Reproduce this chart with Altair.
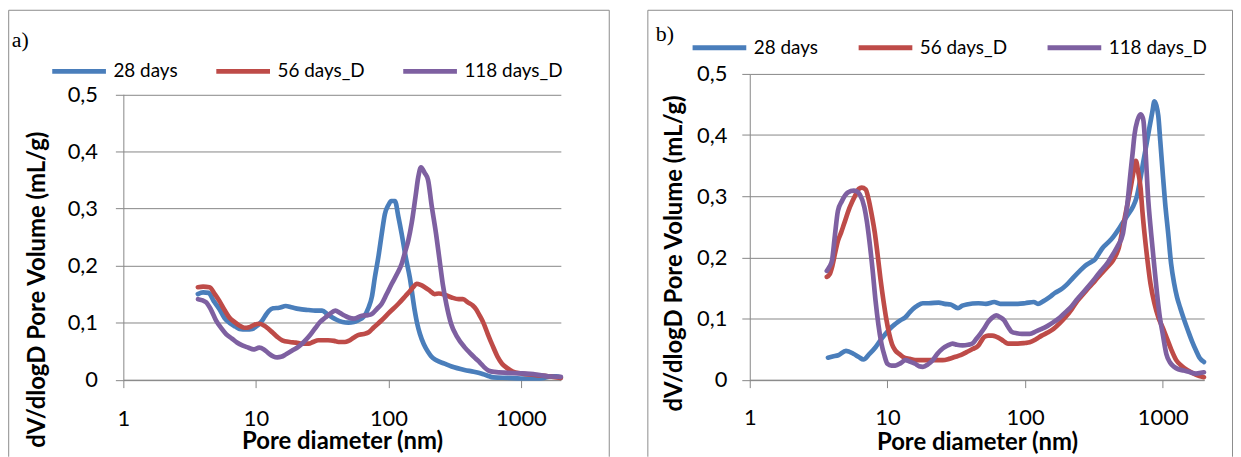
import altair as alt
import pandas as pd

SERIES = ["28 days", "56 days_D", "118 days_D"]
COLORS = ["#4A7EBB", "#BE4B48", "#7E60A1"]
X_TICKS = [1, 10, 100, 1000]
Y_TICKS = [0, 0.1, 0.2, 0.3, 0.4, 0.5]
PANEL_LABELS = ["a)", "b)"]
X_TITLE = "Pore diameter (nm)"
Y_TITLE = "dV/dlogD Pore Volume (mL/g)"

# ---------------- panel a ----------------
a28_d = [3.65, 4.0, 4.4, 4.8, 5.3, 5.8, 6.3, 7.0, 7.5, 8.5, 9.4, 10.3, 11.2, 12.0, 12.6, 13.5, 15, 16.8,
         18.5, 21, 25, 28, 31.6, 35, 39.8, 45, 50, 55, 59, 65, 71, 75, 79, 84, 89, 94, 100, 105, 112, 119,
         126, 135, 145, 158, 165, 173, 185, 200, 210, 230, 265, 300, 375, 440, 500, 560, 620, 800, 1000,
         1300, 1500, 1700, 1850, 2000]
a28_v = [.150, .153, .152, .138, .124, .108, .100, .093, .089, .088, .089, .095, .104, .115, .121, .125, .126,
         .129, .127, .124, .122, .121, .121, .114, .106, .101, .100, .101, .104, .110, .127, .145, .179, .215,
         .255, .290, .306, .313, .313, .285, .255, .215, .179, .121, .098, .080, .062, .048, .041, .034, .028,
         .023, .017, .014, .011, .007, .004, .003, .002, .002, .003, .006, .006, .004]

a56_d = [3.65, 4.0, 4.47, 4.9, 5.3, 5.8, 6.3, 7.0, 7.5, 8.2, 8.9, 9.7, 10.6, 11.5, 12.3, 13.3, 14.5, 15.8, 18,
         20, 22.3, 25, 27, 29.6, 35, 39, 42, 47, 50, 55, 59, 65, 71, 77, 89, 100, 119, 135, 145, 155, 163,
         175, 188, 205, 223, 240, 265, 300, 340, 365, 400, 433, 460, 486, 520, 562, 610, 667, 720, 790, 870,
         1000, 1300, 1600, 2000]
a56_v = [.162, .163, .162, .150, .138, .122, .109, .100, .095, .091, .092, .096, .098, .095, .090, .083, .075,
         .069, .066, .065, .063, .063, .066, .069, .069, .068, .066, .066, .068, .074, .078, .080, .083, .091,
         .104, .116, .133, .147, .155, .163, .168, .166, .162, .156, .150, .151, .149, .144, .141, .141, .135,
         .130, .123, .113, .100, .080, .060, .040, .028, .020, .014, .011, .008, .006, .003]

a118_d = [3.66, 4.2, 4.6, 5.0, 5.5, 5.96, 6.6, 7.2, 7.9, 8.8, 9.6, 10.6, 11.5, 12.5, 13.5, 14.5, 15.5, 17,
          18.8, 21, 23, 25, 28, 30.5, 33.5, 36, 39.8, 43, 47, 50, 55, 63, 70, 75, 82, 89, 97, 106, 116, 126,
          133, 141, 150, 160, 168, 176, 188, 199, 212, 229, 243, 257, 275, 297, 330, 375, 415, 455, 490, 527,
          570, 630, 800, 1000, 1300, 1600, 2000]
a118_v = [.141, .136, .122, .104, .090, .080, .072, .065, .060, .056, .053, .056, .053, .046, .041, .039, .040,
          .045, .051, .058, .066, .075, .090, .101, .109, .115, .121, .117, .112, .109, .107, .112, .113, .115,
          .124, .133, .150, .168, .185, .203, .222, .243, .275, .320, .355, .372, .362, .350, .305, .255, .210,
          .168, .130, .098, .075, .057, .046, .037, .030, .022, .016, .0136, .012, .011, .009, .006, .005]

# ---------------- panel b ----------------
b28_d = [3.7, 4.0, 4.4, 5.0, 5.7, 6.2, 6.7, 7.4, 8.2, 9.0, 9.7, 10.5, 11.4, 12.4, 13.5, 14.5, 15.4, 16.5, 18.1,
         20, 23.6, 26, 28.8, 32.5, 35, 37.6, 45.8, 52, 59.7, 66, 72.8, 88.8, 100, 115.6, 124, 135, 150.7, 165,
         183.7, 200, 224, 250, 273, 300, 323, 345, 368, 400, 435, 475, 513, 560, 605, 646, 690, 725, 762, 800,
         842, 870, 900, 929, 960, 993, 1040, 1097, 1150, 1211, 1270, 1337, 1430, 1527, 1630, 1742, 1850, 1993]
b28_v = [.036, .038, .040, .047, .042, .037, .033, .042, .053, .066, .075, .084, .091, .097, .102, .110, .116,
         .121, .125, .125, .126, .124, .123, .117, .121, .123, .125, .124, .127, .124, .124, .124, .125, .127,
         .124, .128, .135, .142, .148, .155, .167, .178, .186, .192, .197, .207, .216, .224, .233, .245, .257,
         .270, .282, .298, .330, .358, .385, .412, .439, .455, .448, .431, .390, .347, .290, .238, .190, .157,
         .135, .118, .098, .080, .063, .048, .036, .029]

b56_d = [3.63, 3.8, 3.96, 4.15, 4.37, 4.6, 4.83, 5.33, 5.89, 6.2, 6.5, 6.95, 7.3, 7.67, 8.1, 8.48, 8.9, 9.36,
         9.8, 10.3, 10.8, 11.4, 12.2, 13.0, 14.5, 15.9, 20.7, 25.2, 28, 30.8, 34, 37.6, 41.5, 45.8, 48, 50.6,
         54, 57.7, 62, 65.9, 70, 75.2, 88.8, 100, 108, 120, 132, 146, 161, 178, 196, 218, 240, 265, 292, 323,
         356, 395, 435, 460, 480, 505, 530, 558, 585, 610, 638, 663, 690, 712, 738, 775, 815, 870, 929, 1000,
         1062, 1150, 1253, 1380, 1527, 1750, 1993]
b56_v = [.168, .172, .184, .205, .227, .240, .254, .282, .303, .312, .314, .311, .295, .271, .240, .205, .165,
         .129, .100, .075, .058, .048, .042, .037, .034, .032, .032, .032, .034, .037, .040, .045, .050, .056,
         .063, .070, .072, .072, .070, .067, .063, .059, .059, .060, .061, .066, .072, .077, .083, .092, .102,
         .115, .129, .140, .151, .162, .173, .184, .195, .205, .216, .240, .265, .290, .314, .337, .358, .340,
         .314, .275, .238, .195, .157, .125, .102, .085, .070, .050, .032, .022, .015, .008, .004]

b118_d = [3.63, 3.8, 3.96, 4.15, 4.37, 4.67, 5.16, 5.7, 6.0, 6.3, 6.8, 7.1, 7.4, 7.8, 8.2, 8.6, 9.05, 9.5, 10.0,
          10.7, 11.4, 12.5, 13.5, 14.7, 15.9, 17, 18.1, 19.7, 21.4, 23, 25.2, 27.5, 29.7, 32, 35.2, 38.5, 41.4,
          44, 47.3, 50.5, 53.8, 57.5, 61.7, 66, 70.4, 75, 80.3, 87, 94.8, 108, 120, 132, 146, 161, 178, 196,
          218, 240, 265, 292, 323, 356, 395, 435, 475, 513, 530, 550, 567, 585, 604, 624, 655, 690, 712, 725,
          750, 780, 823, 870, 910, 953, 1000, 1062, 1130, 1211, 1300, 1418, 1580, 1742, 1993]
b118_v = [.178, .185, .195, .235, .276, .292, .306, .309, .308, .303, .282, .258, .227, .180, .129, .090, .059,
          .040, .026, .023, .023, .027, .032, .029, .026, .022, .021, .025, .032, .042, .051, .056, .059, .057,
          .056, .057, .059, .066, .075, .084, .094, .101, .105, .102, .097, .087, .078, .076, .075, .075, .079,
          .083, .088, .094, .101, .110, .120, .132, .143, .154, .166, .178, .190, .205, .220, .238, .258, .282,
          .310, .341, .370, .401, .424, .434, .430, .423, .375, .303, .240, .184, .140, .102, .075, .042, .028,
          .021, .017, .015, .012, .010, .012]

GRID = "#868686"
FRAME = "#8c8c8c"
FONT = "Lato"


def panel(curves, label, g):
    rows = []
    for name, (d, v) in zip(SERIES, curves):
        for i, (xx, yy) in enumerate(zip(d, v)):
            rows.append({"series": name, "d": xx, "v": yy, "i": i})
    df = pd.DataFrame(rows)

    lines = alt.Chart(df).mark_line(
        strokeWidth=4.7, strokeCap="round", strokeJoin="round", interpolate="monotone"
    ).encode(
        x=alt.X("d:Q", scale=alt.Scale(type="log", domain=[1, 2000], nice=False),
                axis=alt.Axis(values=X_TICKS, format="d", grid=False, domainColor=GRID, tickColor=GRID,
                              tickSize=8, labelFontSize=22, labelFont=FONT, labelColor="black",
                              labelPadding=g["xlp"], labelFlush=False, labelOverlap=False,
                              title=X_TITLE, titleFont=FONT, titleFontSize=24, titleFontWeight="bold",
                              titleColor="black", titleBaseline="alphabetic", titleY=g["xty"])),
        y=alt.Y("v:Q", scale=alt.Scale(domain=[0, 0.5], nice=False, range=g["yr"]),
                axis=alt.Axis(values=Y_TICKS, grid=True, gridColor=GRID, domainColor=GRID, tickColor=GRID,
                              tickSize=8, labelFontSize=22, labelFont=FONT, labelColor="black",
                              labelPadding=g["ylp"],
                              labelExpr="datum.value == 0 ? '0' : replace(format(datum.value, '.1f'), '.', ',')",
                              title=Y_TITLE, titleFont=FONT, titleFontSize=24, titleFontWeight="bold",
                              titleColor="black", titleAngle=270, titleAlign="center",
                              titleBaseline="middle", titleX=g["ytx"], titleY=g["yty"])),
        color=alt.Color("series:N", scale=alt.Scale(domain=SERIES, range=COLORS),
                        legend=alt.Legend(orient="none", legendX=g["lx"], legendY=g["ly"],
                                          direction="horizontal", columns=3, title=None,
                                          symbolType="stroke", symbolSize=2916, symbolStrokeWidth=5,
                                          labelFontSize=19, labelFont=FONT, labelColor="black",
                                          labelOffset=5, columnPadding=g["cp"], padding=0,
                                          labelLimit=300)),
        order="i:Q",
    ).properties(width=g["w"], height=307.5)

    one = pd.DataFrame({"k": [0]})
    base = alt.Chart(one).mark_rule(color=FRAME, strokeWidth=1)
    left = base.encode(x=alt.value(g["bl"]), y=alt.value(-64), y2=alt.value(385))
    right = base.encode(x=alt.value(g["br"]), y=alt.value(-64), y2=alt.value(385))
    top = base.encode(x=alt.value(g["bl"]), x2=alt.value(g["br"]), y=alt.value(-64))
    tag = alt.Chart(pd.DataFrame({"t": [label]})).mark_text(
        font="Liberation Serif", fontSize=22, align="left", baseline="middle", color="black"
    ).encode(text="t:N", x=alt.value(g["tx"]), y=alt.value(g["ty"]))

    return alt.layer(left, right, top, tag, lines)


# both plot groups share a top edge at y=72; panel a's value range is set inside it
ga = dict(w=440, yr=[307.5, 20.5], xlp=21, ylp=18, xty=69, ytx=-86.3, yty=216.5,
          lx=-74, ly=-32.3, cp=28, bl=-115.3, br=488.7, tx=-112.3, ty=-34)
gb = dict(w=457, yr=[307.5, 0], xlp=20, ylp=15, xty=70, ytx=-75.5, yty=180,
          lx=-60, ly=-56, cp=30, bl=-102.5, br=485.5, tx=-94.5, ty=-40)

pa = panel([(a28_d, a28_v), (a56_d, a56_v), (a118_d, a118_v)], PANEL_LABELS[0], ga)
pb = panel([(b28_d, b28_v), (b56_d, b56_v), (b118_d, b118_v)], PANEL_LABELS[1], gb)

chart = alt.hconcat(pa, pb, spacing=37).resolve_scale(
    x="independent", y="independent", color="independent"
).resolve_legend(color="independent").properties(padding=0).configure_view(strokeOpacity=0)

chart.save("out.html", embed_options={"renderer": "svg", "actions": False})
